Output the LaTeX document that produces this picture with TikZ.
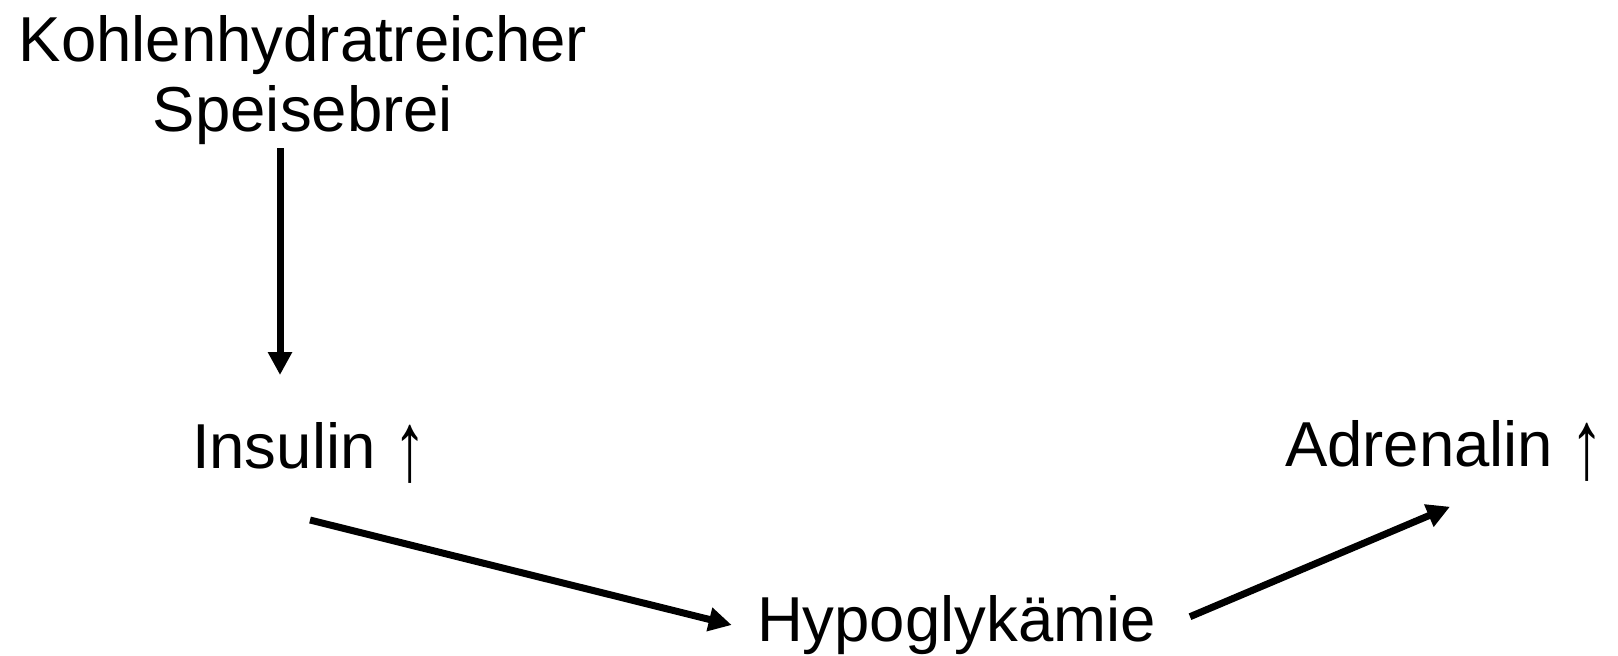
\documentclass[tikz,border=0pt]{standalone}
\usepackage{fontspec}
\usepackage{graphicx}
\setmainfont{Liberation Sans}
\usetikzlibrary{arrows.meta}
\newcommand{\uparr}{\raisebox{-12pt}{\scalebox{1.05}[1.55]{↑}}}
\begin{document}
\begin{tikzpicture}[x=1pt,y=-1pt,
  lbl/.style={inner sep=0pt,outer sep=0pt,font=\fontsize{63.5}{70.3}\selectfont},
  arr/.style={line width=7pt,-{Triangle[length=23pt,width=23pt]}}]
\useasboundingbox (0,0) rectangle (1618,656);
\node[lbl,align=center,anchor=north] (K) at (303,15) {Kohlenhydratreicher\\Speisebrei};
\node[lbl,anchor=base west] (I) at (192,468) {Insulin \uparr};
\node[lbl,anchor=base west] (H) at (757,641.7) {Hypoglykämie};
\node[lbl,anchor=base west] (A) at (1285,466.7) {Adrenalin \uparr};
\draw[arr] ([xshift=-23pt,yshift=-133pt]K.north) -- ([xshift=88pt,yshift=93pt]I.base west);
\draw[arr] ([xshift=118pt,yshift=-52pt]I.base west) -- ([xshift=-25.3pt,yshift=16.7pt]H.base west);
\draw[arr] ([xshift=433pt,yshift=25pt]H.base west) -- ([xshift=165pt,yshift=-40pt]A.base west);
\end{tikzpicture}
\end{document}
